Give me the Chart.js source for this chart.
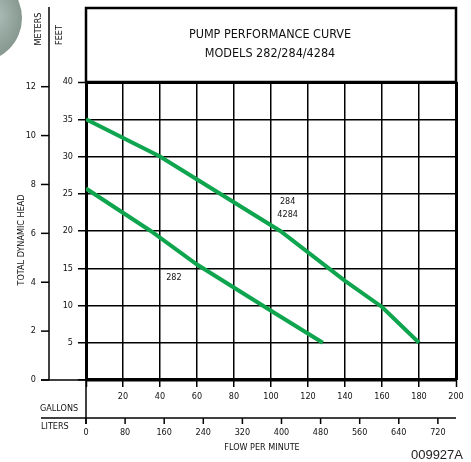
<!DOCTYPE html>
<html>
<head>
<meta charset="utf-8">
<script src="https://cdn.jsdelivr.net/npm/chart.js@4/dist/chart.umd.min.js"></script>
<style>
  html, body { margin: 0; padding: 0; background: #ffffff; }
  #wrap { width: 471px; height: 462px; }
</style>
</head>
<body>
<div id="wrap"><canvas id="c" width="471" height="462"></canvas></div>
<script>
// ---- data ----
const titleLines = ['PUMP PERFORMANCE CURVE', 'MODELS 282/284/4284'];
const gallonTicks = [0, 20, 40, 60, 80, 100, 120, 140, 160, 180, 200];
const feetTicks = [0, 5, 10, 15, 20, 25, 30, 35, 40];
const meterTicks = [0, 2, 4, 6, 8, 10, 12];
const literTicks = [0, 80, 160, 240, 320, 400, 480, 560, 640, 720];

const flow284 = [0, 40, 105, 140, 160, 180];
const head284 = [35, 30, 20, 13.3, 9.8, 5];
const flow282 = [0, 35, 60, 100, 128];
const head282 = [25.7, 20, 15.5, 9.3, 5];

const FT_PER_M = 1 / 0.3048;
const GAL_PER_L = 1 / 3.78541;

const NARROW = '"Liberation Sans Narrow", "DejaVu Sans Condensed", "Liberation Sans", sans-serif';
const GREEN = '#0ea54e';

function pts(xs, ys) { return xs.map((x, i) => ({ x: x, y: ys[i] })); }

const decor = {
  id: 'decor',
  beforeDraw(chart) {
    const c = chart.ctx;
    c.save();
    // gray photo fragment at top-left corner
    const g = c.createRadialGradient(-5, 15, 4, -22, 18, 44);
    g.addColorStop(0, '#a9bab5');
    g.addColorStop(1, '#86988f');
    c.fillStyle = g;
    c.beginPath();
    c.arc(-22, 18, 44, 0, Math.PI * 2);
    c.fill();
    c.restore();
  },
  afterDraw(chart) {
    const c = chart.ctx;
    const xs = chart.scales.x, ys = chart.scales.y;
    const a = chart.chartArea;
    c.save();
    c.strokeStyle = '#000';
    c.fillStyle = '#111';

    // title box
    c.lineWidth = 2.5;
    c.strokeRect(a.left, 8, a.right - a.left, a.top - 8);
    c.font = '12.5px ' + NARROW;
    c.textAlign = 'center';
    c.textBaseline = 'middle';
    const cx = (a.left + a.right) / 2;
    c.fillText(titleLines[0], cx - 1, 35);
    c.fillText(titleLines[1], cx - 1, 54);

    // meters axis
    const mx = 49;
    c.lineWidth = 1.5;
    c.beginPath();
    c.moveTo(mx, 7);
    c.lineTo(mx, a.bottom);
    c.stroke();
    c.beginPath();
    c.moveTo(41, a.bottom);
    c.lineTo(a.left, a.bottom);
    c.stroke();
    c.font = '9px ' + NARROW;
    c.textAlign = 'right';
    meterTicks.forEach(m => {
      const y = ys.getPixelForValue(m * FT_PER_M);
      c.beginPath();
      c.moveTo(41, y);
      c.lineTo(mx, y);
      c.stroke();
      c.fillText(String(m), 36, y);
    });

    // liters axis
    c.lineWidth = 1.5;
    c.beginPath();
    c.moveTo(a.left, a.bottom);
    c.lineTo(a.left, 424);
    c.stroke();
    c.beginPath();
    c.moveTo(41, 418);
    c.lineTo(a.right, 418);
    c.stroke();
    c.textAlign = 'center';
    literTicks.forEach(l => {
      const x = xs.getPixelForValue(l * GAL_PER_L);
      c.beginPath();
      c.moveTo(x, 418);
      c.lineTo(x, 424);
      c.stroke();
      c.fillText(String(l), x, 433);
    });

    c.textAlign = 'left';
    c.fillText('GALLONS', 40, 409);
    c.fillText('LITERS', 41, 427);
    c.textAlign = 'center';
    c.fillText('FLOW PER MINUTE', 262, 448);

    // curve labels
    c.fillText('284', xs.getPixelForValue(109), ys.getPixelForValue(23.9));
    c.fillText('4284', xs.getPixelForValue(109), ys.getPixelForValue(22.2));
    c.fillText('282', xs.getPixelForValue(47.5), ys.getPixelForValue(13.8));

    // rotated labels
    function vtext(t, x, y) {
      c.save();
      c.translate(x, y);
      c.rotate(-Math.PI / 2);
      c.textAlign = 'center';
      c.fillText(t, 0, 0);
      c.restore();
    }
    vtext('TOTAL DYNAMIC HEAD', 22, 240);
    vtext('METERS', 39, 29);
    vtext('FEET', 60, 35);

    // drawing code
    c.font = '13px "Liberation Sans", Arial, sans-serif';
    c.textAlign = 'right';
    c.fillStyle = '#222';
    c.fillText('009927A', 463, 455);
    c.restore();
  }
};

new Chart(document.getElementById('c'), {
  type: 'line',
  data: {
    datasets: [
      { label: '284/4284', data: pts(flow284, head284), borderColor: GREEN, borderWidth: 4, pointRadius: 0, tension: 0, fill: false },
      { label: '282', data: pts(flow282, head282), borderColor: GREEN, borderWidth: 4, pointRadius: 0, tension: 0, fill: false }
    ]
  },
  options: {
    responsive: false,
    animation: false,
    devicePixelRatio: 1,
    layout: { padding: { left: 0, top: 82, right: 15, bottom: 0 } },
    plugins: { legend: { display: false }, tooltip: { enabled: false } },
    scales: {
      x: {
        type: 'linear', min: 0, max: 200,
        afterFit(s) { s.height = 82; },
        afterBuildTicks(s) { s.ticks = gallonTicks.map(v => ({ value: v })); },
        border: { display: false },
        grid: {
          color: '#000',
          lineWidth: ctx => (ctx.tick && (ctx.tick.value === 0 || ctx.tick.value === 200)) ? 3 : 1.5,
          tickLength: 7, tickWidth: 1.5, tickColor: '#000'
        },
        ticks: {
          autoSkip: false, maxRotation: 0, padding: 4, color: '#111',
          font: { family: NARROW, size: 9 },
          callback: v => v === 0 ? '' : String(v)
        }
      },
      y: {
        type: 'linear', min: 0, max: 40,
        afterFit(s) { s.width = 86; },
        afterBuildTicks(s) { s.ticks = feetTicks.map(v => ({ value: v })); },
        border: { display: false },
        grid: {
          color: '#000',
          lineWidth: ctx => (ctx.tick && ctx.tick.value === 0) ? 3.5 : (ctx.tick && ctx.tick.value === 40) ? 3 : 1.5,
          tickLength: 8, tickWidth: 1.5, tickColor: '#000'
        },
        ticks: {
          padding: 5, color: '#111',
          font: { family: NARROW, size: 9 },
          callback: v => v === 0 ? '' : String(v)
        }
      }
    }
  },
  plugins: [decor]
});
</script>
</body>
</html>
